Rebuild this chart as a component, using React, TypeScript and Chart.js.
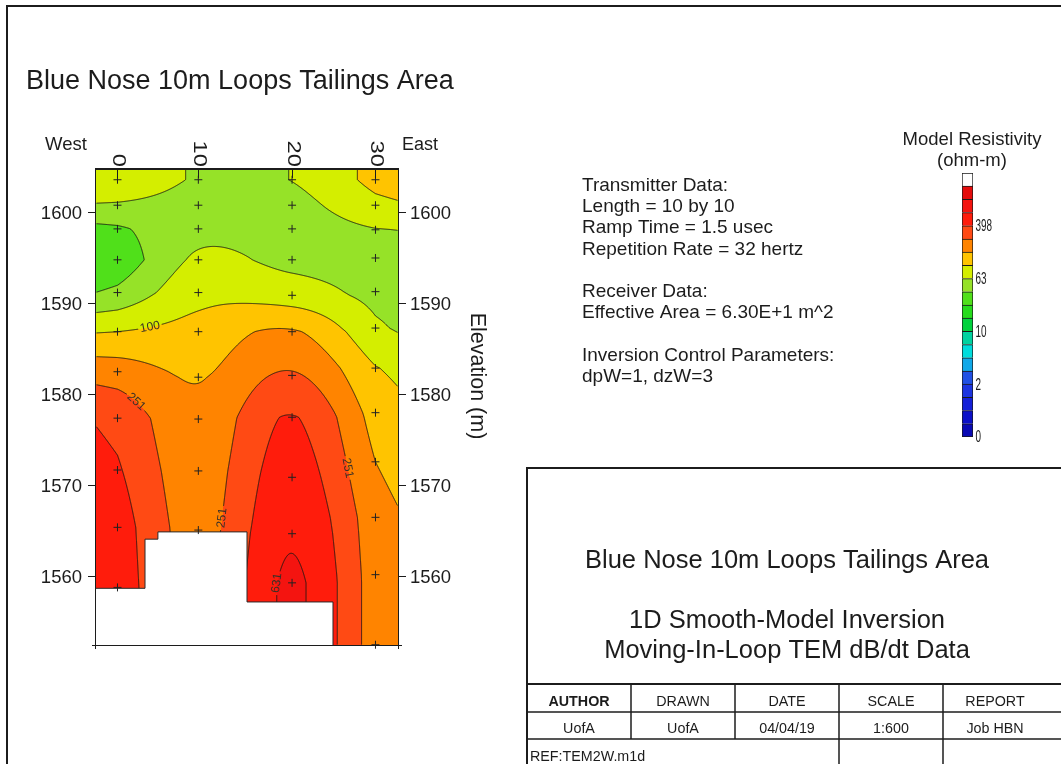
import React, { useEffect, useRef } from 'react';
import { Chart, registerables } from 'chart.js';

Chart.register(...registerables);

const FONT = '"Liberation Sans", Arial, Helvetica, sans-serif';
const INK = '#1c1c1c';

// ---- Sounding stations along the line (m) ----
const STATION_X = [0, 9.4, 20.3, 30];
const STATION_LABELS = ['0', '10', '20', '30'];

// ---- Layer-centre elevations (m) and log10 model resistivity per sounding ----
const ELEV_0 = [1603.6, 1600.8, 1598.2, 1594.8, 1591.2, 1586.9, 1582.5, 1577.4, 1571.7, 1565.4, 1558.8];
const LOGRHO_0 = [1.95, 1.78, 1.57, 1.46, 1.64, 2.0, 2.31, 2.55, 2.62, 2.7, 2.72];
const ELEV_10 = [1603.6, 1600.8, 1598.2, 1594.8, 1591.2, 1586.9, 1581.9, 1577.3, 1571.6, 1565.1, 1558.8];
const LOGRHO_10 = [1.785, 1.74, 1.74, 1.83, 1.93, 2.08, 2.19, 2.26, 2.3, 2.33, 2.35];
const ELEV_20 = [1603.6, 1600.8, 1598.2, 1594.8, 1590.9, 1586.9, 1582.1, 1577.5, 1570.9, 1564.7, 1559.3];
const LOGRHO_20 = [1.805, 1.74, 1.7, 1.74, 1.9, 2.22, 2.42, 2.61, 2.7, 2.78, 2.83];
const ELEV_30 = [1603.6, 1600.8, 1598.1, 1595.0, 1591.3, 1587.3, 1582.9, 1578.0, 1572.6, 1566.5, 1560.2, 1552.5];
const LOGRHO_30 = [2.06, 1.95, 1.79, 1.7, 1.74, 1.83, 2.01, 2.12, 2.2, 2.28, 2.3, 2.3];

// ---- Depth-of-investigation blanking spans (m) and elevation where blanking starts ----
const BLANK_FROM = [-2.5, 3.2, 4.7, 15.06];
const BLANK_TO = [3.2, 4.7, 15.06, 25.06];
const BLANK_TOP = [1558.7, 1564.1, 1564.9, 1557.2];

// ---- Axes ----
const X_RANGE = [-2.5, 32.62];
const ELEV_RANGE = [1552.47, 1604.78];
const ELEV_TICKS = [1560, 1570, 1580, 1590, 1600];

// ---- Colour classes (log10 ohm-m boundaries) ----
const BAND_LOG10 = [-0.6, -0.4, -0.2, 0.0, 0.2, 0.4, 0.6, 0.8, 1.0, 1.2, 1.4, 1.6, 1.8, 2.0, 2.2, 2.4, 2.6, 2.8, 3.0, 3.2];
const BAND_COLORS = [
  '#0a0ab4', '#0c10c8', '#1420d8', '#1c34e0', '#2050e4', '#10a8e8', '#00dcdc', '#00d2a0', '#00d23c',
  '#26dc1c', '#50e01a', '#96e228', '#d4ee00', '#ffc400', '#ff8400', '#ff4a14', '#ff1c0c', '#f41410', '#e40c0c',
];
const COLORBAR_TICKS = [-0.6, 0.2, 1.0, 1.8, 2.6];

// Contour labels: level and approximate place along the line (m, elevation)
const CONTOUR_LABELS = [
  { level: 2.0, x: 3.8, elev: 1587.1 },
  { level: 2.4, x: 3.0, elev: 1580.0 },
  { level: 2.4, x: 11.6, elev: 1566.5 },
  { level: 2.4, x: 26.6, elev: 1571.9 },
  { level: 2.8, x: 18.7, elev: 1559.3 },
];

// ---- Sheet text ----
const TITLE = 'Blue Nose 10m Loops Tailings Area';
const INFO_LINES = [
  'Transmitter Data:',
  'Length = 10 by 10',
  'Ramp Time = 1.5 usec',
  'Repetition Rate = 32 hertz',
  '',
  'Receiver Data:',
  'Effective Area = 6.30E+1 m^2',
  '',
  'Inversion Control Parameters:',
  'dpW=1, dzW=3',
];
const BLOCK_TITLE = ['Blue Nose 10m Loops Tailings Area', '1D Smooth-Model Inversion', 'Moving-In-Loop TEM dB/dt Data'];
const BLOCK_HEAD = ['AUTHOR', 'DRAWN', 'DATE', 'SCALE', 'REPORT'];
const BLOCK_VALUES = ['UofA', 'UofA', '04/04/19', '1:600', 'Job HBN'];
const BLOCK_REF = 'REF:TEM2W.m1d';

type Station = { x: number; elev: number[]; rho: number[] };
const STATIONS: Station[] = [
  { x: STATION_X[0], elev: ELEV_0, rho: LOGRHO_0 },
  { x: STATION_X[1], elev: ELEV_10, rho: LOGRHO_10 },
  { x: STATION_X[2], elev: ELEV_20, rho: LOGRHO_20 },
  { x: STATION_X[3], elev: ELEV_30, rho: LOGRHO_30 },
];

function blankTopAt(x: number): number {
  for (let i = 0; i < BLANK_FROM.length; i++) {
    if (x >= BLANK_FROM[i] && x < BLANK_TO[i]) return BLANK_TOP[i];
  }
  return -Infinity;
}

// linear interpolation down one sounding (elevations are listed top to bottom)
function profileAt(elev: number[], rho: number[], e: number): number {
  const n = elev.length;
  if (e >= elev[0]) return rho[0];
  if (e <= elev[n - 1]) return rho[n - 1];
  for (let k = 0; k < n - 1; k++) {
    if (e <= elev[k] && e >= elev[k + 1]) {
      const t = (elev[k] - e) / (elev[k] - elev[k + 1]);
      return rho[k] + t * (rho[k + 1] - rho[k]);
    }
  }
  return rho[n - 1];
}

// Catmull-Rom style tangents across the stations
function tangents(xs: number[], ys: number[]): number[] {
  const n = xs.length;
  return xs.map((_, i) => {
    if (i === 0) return (ys[1] - ys[0]) / (xs[1] - xs[0]);
    if (i === n - 1) return (ys[n - 1] - ys[n - 2]) / (xs[n - 1] - xs[n - 2]);
    return (ys[i + 1] - ys[i - 1]) / (xs[i + 1] - xs[i - 1]);
  });
}

function hermite(xs: number[], ys: number[], m: number[], x: number): number {
  const n = xs.length;
  if (x <= xs[0]) return ys[0] + 0.5 * m[0] * (x - xs[0]);
  if (x >= xs[n - 1]) return ys[n - 1] + 0.5 * m[n - 1] * (x - xs[n - 1]);
  let k = 0;
  while (k < n - 2 && x > xs[k + 1]) k++;
  const h = xs[k + 1] - xs[k];
  const t = (x - xs[k]) / h;
  const t2 = t * t;
  const t3 = t2 * t;
  return (
    (2 * t3 - 3 * t2 + 1) * ys[k] +
    (t3 - 2 * t2 + t) * h * m[k] +
    (-2 * t3 + 3 * t2) * ys[k + 1] +
    (t3 - t2) * h * m[k + 1]
  );
}

function hexToRgb(h: string): number[] {
  const n = parseInt(h.slice(1), 16);
  return [(n >> 16) & 255, (n >> 8) & 255, n & 255];
}

function bandIndex(v: number): number {
  if (v >= BAND_LOG10[BAND_LOG10.length - 1]) return -1;
  for (let k = BAND_LOG10.length - 2; k >= 0; k--) if (v >= BAND_LOG10[k]) return k;
  return 0;
}

// marching squares on the node grid, returns flat segment list [x1,y1,x2,y2,...]
function contourSegments(vals: Float32Array, W: number, H: number, level: number): number[] {
  const seg: number[] = [];
  for (let j = 0; j < H - 1; j++) {
    for (let i = 0; i < W - 1; i++) {
      const a = vals[j * W + i];
      const b = vals[j * W + i + 1];
      const c = vals[(j + 1) * W + i + 1];
      const d = vals[(j + 1) * W + i];
      const A = a >= level, B = b >= level, C = c >= level, D = d >= level;
      if (A === B && B === C && C === D) continue;
      const p: number[] = [];
      if (A !== B) p.push(i + (level - a) / (b - a), j);
      if (B !== C) p.push(i + 1, j + (level - b) / (c - b));
      if (C !== D) p.push(i + (level - d) / (c - d), j + 1);
      if (D !== A) p.push(i, j + (level - a) / (d - a));
      for (let q = 0; q + 3 < p.length; q += 4) seg.push(p[q], p[q + 1], p[q + 2], p[q + 3]);
    }
  }
  return seg;
}

function placeLabel(seg: number[], gx: number, gy: number) {
  let best = -1;
  let bd = Infinity;
  for (let k = 0; k < seg.length; k += 4) {
    const mx = (seg[k] + seg[k + 2]) / 2;
    const my = (seg[k + 1] + seg[k + 3]) / 2;
    const d = (mx - gx) ** 2 + (my - gy) ** 2;
    if (d < bd) {
      bd = d;
      best = k;
    }
  }
  if (best < 0) return null;
  const cx = (seg[best] + seg[best + 2]) / 2;
  const cy = (seg[best + 1] + seg[best + 3]) / 2;
  const rx = seg[best + 2] - seg[best];
  const ry = seg[best + 3] - seg[best + 1];
  let dx = 0;
  let dy = 0;
  for (let k = 0; k < seg.length; k += 4) {
    const mx = (seg[k] + seg[k + 2]) / 2;
    const my = (seg[k + 1] + seg[k + 3]) / 2;
    if ((mx - cx) ** 2 + (my - cy) ** 2 < 64) {
      let vx = seg[k + 2] - seg[k];
      let vy = seg[k + 3] - seg[k + 1];
      if (vx * rx + vy * ry < 0) {
        vx = -vx;
        vy = -vy;
      }
      dx += vx;
      dy += vy;
    }
  }
  let ang = Math.atan2(dy, dx);
  if (ang > Math.PI / 2) ang -= Math.PI;
  if (ang < -Math.PI / 2) ang += Math.PI;
  return { cx, cy, ang };
}

type TextOpts = {
  size: number;
  weight?: string;
  align?: CanvasTextAlign;
  baseline?: CanvasTextBaseline;
  rotate?: number;
  sx?: number;
  color?: string;
};

function drawText(ctx: CanvasRenderingContext2D, s: string, x: number, y: number, o: TextOpts) {
  ctx.save();
  ctx.translate(x, y);
  if (o.rotate) ctx.rotate(o.rotate);
  if (o.sx && o.sx !== 1) ctx.scale(o.sx, 1);
  ctx.font = `${o.weight || 'normal'} ${o.size}px ${FONT}`;
  ctx.textAlign = o.align || 'left';
  ctx.textBaseline = o.baseline || 'alphabetic';
  ctx.fillStyle = o.color || INK;
  ctx.fillText(s, 0, 0);
  ctx.restore();
}

function strokeLine(ctx: CanvasRenderingContext2D, x1: number, y1: number, x2: number, y2: number) {
  ctx.beginPath();
  ctx.moveTo(x1, y1);
  ctx.lineTo(x2, y2);
  ctx.stroke();
}

const sectionPlugin = {
  id: 'resistivitySection',
  beforeDatasetsDraw(chart: any) {
    const { ctx, chartArea: a } = chart;
    const xs = chart.scales.x;
    const ys = chart.scales.y;
    const L = Math.round(a.left);
    const T = Math.round(a.top);
    const W = Math.round(a.right) - L;
    const H = Math.round(a.bottom) - T;

    // model values at every pixel centre
    const vals = new Float32Array(W * H);
    const gxv = new Float64Array(W);
    for (let i = 0; i < W; i++) gxv[i] = xs.getValueForPixel(L + i + 0.5);
    for (let j = 0; j < H; j++) {
      const e = ys.getValueForPixel(T + j + 0.5);
      const col = STATIONS.map((s) => profileAt(s.elev, s.rho, e));
      const m = tangents(STATION_X, col);
      for (let i = 0; i < W; i++) vals[j * W + i] = hermite(STATION_X, col, m, gxv[i]);
    }

    // filled colour classes
    const rgb = BAND_COLORS.map(hexToRgb);
    const off = document.createElement('canvas');
    off.width = W;
    off.height = H;
    const octx = off.getContext('2d')!;
    const img = octx.createImageData(W, H);
    for (let p = 0; p < W * H; p++) {
      const k = bandIndex(vals[p]);
      const c = k < 0 ? [255, 255, 255] : rgb[k];
      img.data[p * 4] = c[0];
      img.data[p * 4 + 1] = c[1];
      img.data[p * 4 + 2] = c[2];
      img.data[p * 4 + 3] = 255;
    }
    octx.putImageData(img, 0, 0);
    ctx.drawImage(off, L, T);

    // contour lines
    const segs = BAND_LOG10.map((lv) => contourSegments(vals, W, H, lv));
    ctx.save();
    ctx.font = `12px ${FONT}`;
    const labels = CONTOUR_LABELS.map((spec) => {
      const li = BAND_LOG10.indexOf(spec.level);
      const gx = xs.getPixelForValue(spec.x) - L - 0.5;
      const gy = ys.getPixelForValue(spec.elev) - T - 0.5;
      const pl = li >= 0 ? placeLabel(segs[li], gx, gy) : null;
      if (!pl) return null;
      const txt = String(Math.round(10 ** spec.level));
      return { x: L + 0.5 + pl.cx, y: T + 0.5 + pl.cy, ang: pl.ang, txt, w: ctx.measureText(txt).width + 4 };
    }).filter(Boolean) as any[];

    const clip = new Path2D();
    clip.rect(L, T, W, H);
    labels.forEach((lb) => {
      const c = Math.cos(lb.ang);
      const s = Math.sin(lb.ang);
      const hw = lb.w / 2;
      const hh = 6;
      const pts = [
        [-hw, -hh],
        [hw, -hh],
        [hw, hh],
        [-hw, hh],
      ].map(([u, v]) => [lb.x + u * c - v * s, lb.y + u * s + v * c]);
      clip.moveTo(pts[0][0], pts[0][1]);
      for (let q = 1; q < 4; q++) clip.lineTo(pts[q][0], pts[q][1]);
      clip.closePath();
    });
    ctx.clip(clip, 'evenodd');
    ctx.beginPath();
    segs.forEach((seg) => {
      for (let k = 0; k < seg.length; k += 4) {
        ctx.moveTo(L + 0.5 + seg[k], T + 0.5 + seg[k + 1]);
        ctx.lineTo(L + 0.5 + seg[k + 2], T + 0.5 + seg[k + 3]);
      }
    });
    ctx.strokeStyle = 'rgba(28,24,20,0.9)';
    ctx.lineWidth = 1;
    ctx.stroke();
    ctx.restore();

    // blank area below the depth of investigation
    const bottom = ys.getPixelForValue(ELEV_RANGE[0]);
    const outline: number[][] = [];
    BLANK_FROM.forEach((x0, i) => {
      outline.push([xs.getPixelForValue(x0), ys.getPixelForValue(BLANK_TOP[i])]);
      outline.push([xs.getPixelForValue(BLANK_TO[i]), ys.getPixelForValue(BLANK_TOP[i])]);
    });
    const last = outline[outline.length - 1];
    ctx.save();
    ctx.beginPath();
    ctx.moveTo(outline[0][0], bottom);
    outline.forEach((p) => ctx.lineTo(p[0], p[1]));
    ctx.lineTo(last[0], bottom);
    ctx.closePath();
    ctx.fillStyle = '#ffffff';
    ctx.fill();
    ctx.beginPath();
    ctx.moveTo(outline[0][0], outline[0][1]);
    outline.forEach((p) => ctx.lineTo(p[0], p[1]));
    ctx.lineTo(last[0], bottom);
    ctx.strokeStyle = '#2a2a2a';
    ctx.lineWidth = 1;
    ctx.stroke();
    ctx.restore();

    // contour label text
    labels.forEach((lb) => {
      drawText(ctx, lb.txt, lb.x, lb.y, { size: 12, align: 'center', baseline: 'middle', rotate: lb.ang, color: '#3a3028' });
    });
  },

  afterDatasetsDraw(chart: any) {
    const { ctx, chartArea: a } = chart;
    const xs = chart.scales.x;
    const ys = chart.scales.y;
    const L = a.left;
    const R = a.right;
    const T = a.top;
    const B = a.bottom;
    ctx.save();
    ctx.strokeStyle = INK;
    ctx.lineWidth = 1;
    // section frame
    strokeLine(ctx, L - 0.5, T, L - 0.5, B + 4);
    strokeLine(ctx, R + 0.5, T, R + 0.5, B + 4);
    strokeLine(ctx, L - 4, B + 0.5, R + 4, B + 0.5);
    ctx.lineWidth = 2;
    strokeLine(ctx, L - 1, T, R + 1, T);
    ctx.lineWidth = 1;

    // station ticks and labels on top
    STATION_X.forEach((sx, i) => {
      const px = Math.round(xs.getPixelForValue(sx)) + 0.5;
      strokeLine(ctx, px, T, px, T + 9);
      drawText(ctx, STATION_LABELS[i], px + 0.5, T - 2, {
        size: 19,
        align: 'right',
        baseline: 'middle',
        rotate: Math.PI / 2,
        sx: 1.25,
      });
    });

    // elevation ticks both sides
    ELEV_TICKS.forEach((v) => {
      const py = Math.round(ys.getPixelForValue(v)) + 0.5;
      strokeLine(ctx, L - 8, py, L, py);
      strokeLine(ctx, R, py, R + 8, py);
      drawText(ctx, String(v), L - 14, py + 1, { size: 18.5, align: 'right', baseline: 'middle' });
      drawText(ctx, String(v), R + 12, py + 1, { size: 18.5, align: 'left', baseline: 'middle' });
    });
    drawText(ctx, 'Elevation (m)', R + 79, (T + B) / 2 - 31, {
      size: 21.5,
      align: 'center',
      baseline: 'middle',
      rotate: Math.PI / 2,
    });
    drawText(ctx, 'West', L - 51, T - 19, { size: 18.5 });
    drawText(ctx, 'East', R + 4, T - 19, { size: 18 });
    ctx.restore();
  },

  afterDraw(chart: any) {
    const ctx: CanvasRenderingContext2D = chart.ctx;
    ctx.save();
    // sheet border
    ctx.strokeStyle = INK;
    ctx.lineWidth = 2;
    ctx.strokeRect(7, 6, 1100, 800);

    drawText(ctx, TITLE, 26, 89, { size: 27 });

    INFO_LINES.forEach((s, i) => {
      if (s) drawText(ctx, s, 582, 191 + i * 21.2, { size: 19 });
    });

    drawText(ctx, 'Model Resistivity', 972, 145, { size: 18.5, align: 'center' });
    drawText(ctx, '(ohm-m)', 972, 166, { size: 18.5, align: 'center' });

    // title block
    ctx.strokeStyle = INK;
    ctx.lineWidth = 2;
    ctx.beginPath();
    ctx.moveTo(527, 800);
    ctx.lineTo(527, 468);
    ctx.lineTo(1100, 468);
    ctx.stroke();
    strokeLine(ctx, 527, 684, 1100, 684);
    ctx.lineWidth = 1.5;
    strokeLine(ctx, 527, 712, 1100, 712);
    strokeLine(ctx, 527, 739, 1100, 739);
    [631, 735].forEach((x) => strokeLine(ctx, x, 684, x, 739));
    [839, 943].forEach((x) => strokeLine(ctx, x, 684, x, 800));

    drawText(ctx, BLOCK_TITLE[0], 787, 568, { size: 25.5, align: 'center' });
    drawText(ctx, BLOCK_TITLE[1], 787, 628, { size: 25.5, align: 'center' });
    drawText(ctx, BLOCK_TITLE[2], 787, 658, { size: 25.5, align: 'center' });
    BLOCK_HEAD.forEach((s, i) => {
      drawText(ctx, s, 579 + i * 104, 706, { size: 14.3, align: 'center', weight: i === 0 ? 'bold' : 'normal' });
    });
    BLOCK_VALUES.forEach((s, i) => {
      drawText(ctx, s, 579 + i * 104, 733, { size: 14.3, align: 'center' });
    });
    drawText(ctx, BLOCK_REF, 530, 761, { size: 14.3 });
    ctx.restore();
  },
};

const colourBarTicks = {
  id: 'colourBarTicks',
  afterDraw(chart: any) {
    const { ctx, chartArea: a } = chart;
    const ys = chart.scales.y;
    COLORBAR_TICKS.forEach((v) => {
      drawText(ctx, String(Math.round(10 ** v)), a.right + 2.5, ys.getPixelForValue(v) + 1, {
        size: 16,
        sx: 0.62,
        baseline: 'middle',
      });
    });
  },
};

export default function App() {
  const mainRef = useRef<HTMLCanvasElement>(null);
  const barRef = useRef<HTMLCanvasElement>(null);

  useEffect(() => {
    const markers = STATIONS.flatMap((s) =>
      s.elev.filter((e) => e >= blankTopAt(s.x) - 0.3).map((e) => ({ x: s.x, y: e }))
    );

    const section = new Chart(mainRef.current!, {
      type: 'scatter',
      data: {
        datasets: [
          {
            data: markers,
            pointStyle: 'cross',
            pointRadius: 4,
            borderWidth: 1,
            borderColor: '#222222',
            backgroundColor: '#222222',
            clip: false,
          } as any,
        ],
      },
      options: {
        responsive: false,
        animation: false,
        devicePixelRatio: 1,
        events: [],
        layout: { padding: { left: 96, top: 169, right: 663, bottom: 119 } },
        scales: {
          x: { type: 'linear', min: X_RANGE[0], max: X_RANGE[1], display: false },
          y: { type: 'linear', min: ELEV_RANGE[0], max: ELEV_RANGE[1], display: false },
        },
        plugins: { legend: { display: false }, tooltip: { enabled: false } },
      },
      plugins: [sectionPlugin],
    });

    // colour scale: one floating bar per resistivity class, plus the open top class
    const lows = [...BAND_LOG10.slice(0, -1), BAND_LOG10[BAND_LOG10.length - 1]];
    const highs = [...BAND_LOG10.slice(1), BAND_LOG10[BAND_LOG10.length - 1] + 0.2];
    const fills = [...BAND_COLORS, '#ffffff'];
    const colourBar = new Chart(barRef.current!, {
      type: 'bar',
      data: {
        labels: ['rho'],
        datasets: lows.map((lo, i) => ({
          data: [[lo, highs[i]]],
          backgroundColor: fills[i],
          borderColor: '#1a1a1a',
          borderWidth: { top: 1, left: 1, right: 1, bottom: i === 0 ? 1 : 0 },
          borderSkipped: false,
          grouped: false,
          barPercentage: 1,
          categoryPercentage: 1,
        })) as any,
      },
      options: {
        responsive: false,
        animation: false,
        devicePixelRatio: 1,
        events: [],
        layout: { padding: { left: 12, right: 47, top: 13, bottom: 13 } },
        scales: {
          x: { display: false },
          y: { display: false, min: BAND_LOG10[0], max: BAND_LOG10[BAND_LOG10.length - 1] + 0.2 },
        },
        plugins: { legend: { display: false }, tooltip: { enabled: false } },
      },
      plugins: [colourBarTicks],
    });

    return () => {
      section.destroy();
      colourBar.destroy();
    };
  }, []);

  return (
    <div
      style={{
        position: 'absolute',
        left: 0,
        top: 0,
        width: 1061,
        height: 764,
        background: '#ffffff',
        overflow: 'hidden',
      }}
    >
      <canvas
        ref={mainRef}
        width={1061}
        height={764}
        style={{ position: 'absolute', left: 0, top: 0, width: 1061, height: 764 }}
      />
      <canvas
        ref={barRef}
        width={70}
        height={290}
        style={{ position: 'absolute', left: 950, top: 160, width: 70, height: 290 }}
      />
    </div>
  );
}
